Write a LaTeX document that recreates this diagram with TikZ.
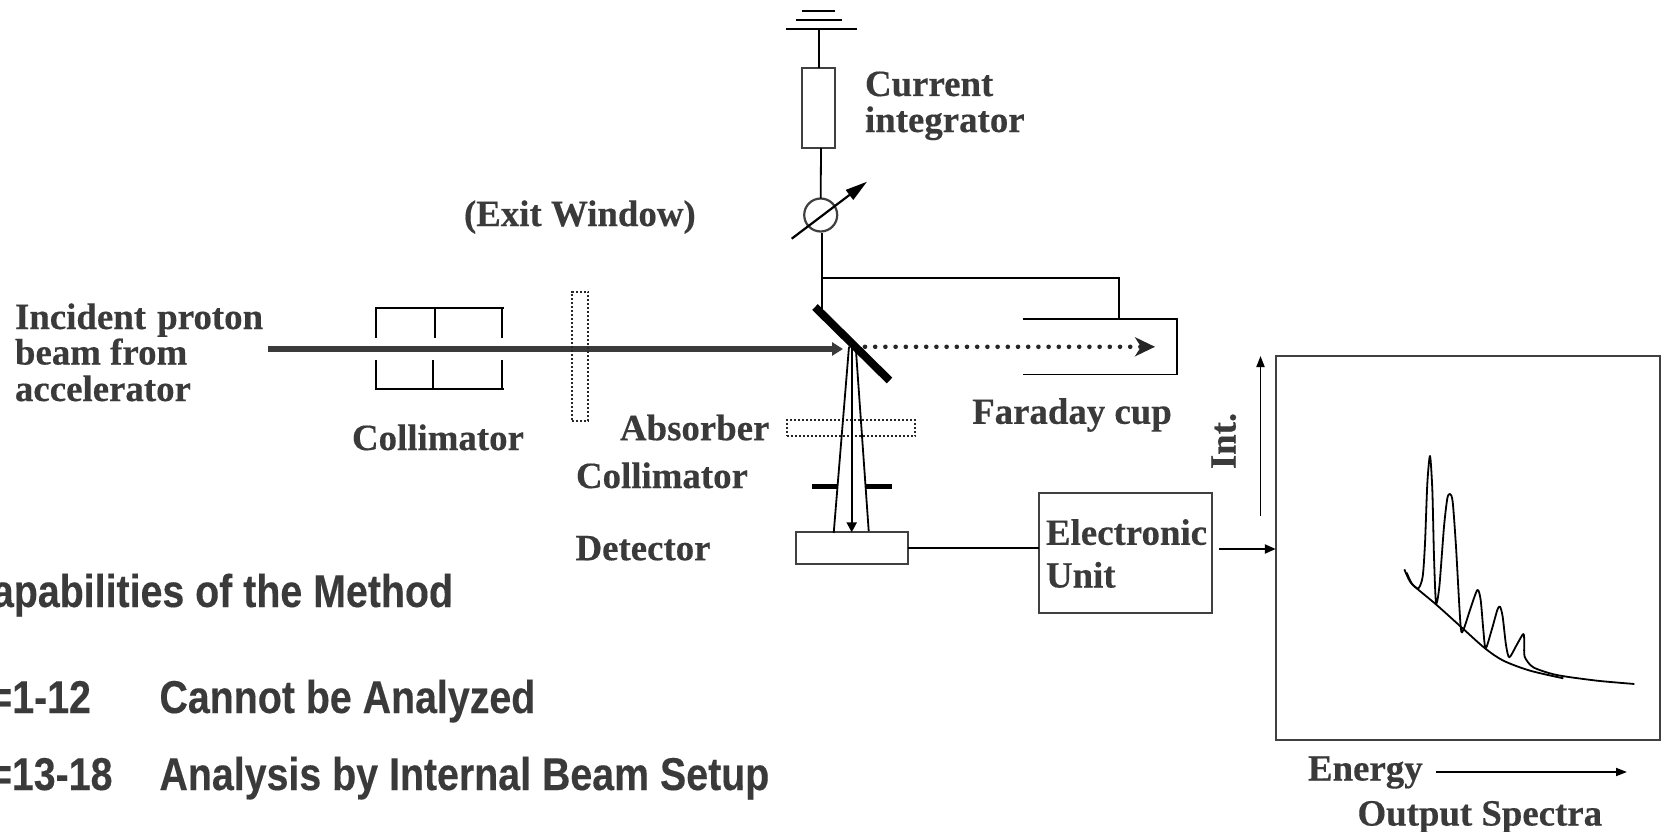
\documentclass[tikz,border=0pt]{standalone}
\usepackage{fontspec}
\setmainfont[BoldFeatures={FakeBold=0.35,FakeStretch=0.996}]{Liberation Serif}
\newfontfamily\condsans[FakeStretch=0.855,BoldFeatures={FakeStretch=0.855,FakeBold=0.25}]{Liberation Sans}
\usetikzlibrary{arrows.meta}
\definecolor{ink}{HTML}{3A3A3A}
\definecolor{edge}{HTML}{404040}
\tikzset{
  lab/.style={anchor=base west,inner sep=0pt,outer sep=0pt,text=ink,font=\fontsize{37}{36}\selectfont\bfseries},
  slab/.style={anchor=base west,inner sep=0pt,outer sep=0pt,text=ink,font=\fontsize{46}{46}\condsans\bfseries},
  wire/.style={line width=1.8pt,black},
  boxn/.style={draw=edge,line width=2.2pt,inner sep=0pt,outer sep=0pt,rectangle},
  dotbox/.style={draw=black!85,line width=1.8pt,dash pattern=on 2pt off 2pt,inner sep=0pt,outer sep=0pt,rectangle},
  bar/.style={line width=5pt,black},
}
\begin{document}
\begin{tikzpicture}[x=1pt,y=-1pt]
\useasboundingbox (0,0) rectangle (1665,832);
\clip (0,0) rectangle (1665,832);
\fill[white] (0,0) rectangle (1665,832);
% coordinates
\coordinate (g1a) at (786,29.3); \coordinate (g1b) at (857,29.3);
\coordinate (g2a) at (796,20);   \coordinate (g2b) at (842,20);
\coordinate (g3a) at (802,10.7); \coordinate (g3b) at (835,10.7);
\coordinate (gt) at (819.3,29.3);
\coordinate (jn) at (822,277.7);
\coordinate (mirA) at (815,307); \coordinate (mirB) at (889.5,380.5);
\coordinate (jm) at (822,311);
\coordinate (cupJ) at (1118.7,277.7);
\coordinate (cupT) at (1118.7,318.3);
\coordinate (cupA) at (1023,318.8); \coordinate (cupB) at (1176.7,318.8);
\coordinate (cupC) at (1176.7,374.5); \coordinate (cupD) at (1023,374.5);
\coordinate (beamS) at (268,349); \coordinate (beamE) at (843,349);
\coordinate (dotS) at (865,346.8); \coordinate (dotE) at (1155,346.8);
% ground
\draw[wire] (g1a) -- (g1b);
\draw[wire] (g2a) -- (g2b);
\draw[wire] (g3a) -- (g3b);
% integrator
\node[boxn,minimum width=33pt,minimum height=80pt] (integ) at (818.8,108) {};
\draw[wire] (gt) -- (gt |- integ.north);
% ammeter
\node[draw=edge,line width=2.2pt,circle,minimum size=33pt,inner sep=0pt,outer sep=0pt] (amm) at (820.7,215) {};
\draw[wire] (821,148) -- (amm.north);
\coordinate (ammA) at (791.7,238.7); \coordinate (ammB) at (867,181.7);
\draw[line width=2.2pt,black,-{Triangle[length=22pt,width=12pt]}] (ammA) -- (ammB);
\draw[wire] (822,233) -- (jn) -- (jm);
\draw[wire] (jn) -- (cupJ) -- (cupT);
\draw[wire,line join=miter] (cupA) -- (cupB) -- (cupC) -- (cupD);
% incident beam
\draw[line width=5.5pt,ink,-{Triangle[length=11pt,width=13pt]}] (beamS) -- (beamE);
% first collimator
\coordinate (ct1) at (376,308.3); \coordinate (ct2) at (504,308.3);
\coordinate (cb1) at (376,388.6); \coordinate (cb2) at (504,388.6);
\draw[wire] (ct2) -- (ct1) -- (376,337.7);
\draw[wire] (435,308.3) -- (435,337.7);
\draw[wire] (502,308.3) -- (502,337.7);
\draw[wire] (cb2) -- (cb1) -- (376,360);
\draw[wire] (433,388.6) -- (433,360);
\draw[wire] (502,388.6) -- (502,360);
% exit window
\node[dotbox,minimum width=16.4pt,minimum height=129pt] (exitw) at (580,356.2) {};
% absorber
\node[dotbox,minimum width=128.6pt,minimum height=16pt] (absb) at (851,428) {};
% rear collimator
\draw[bar] (811.7,486) -- (836.7,486);
\draw[bar] (866,486) -- (891.7,486);
% detector
\node[boxn,minimum width=112.6pt,minimum height=32pt] (det) at (852,548.3) {};
% rays
\coordinate (r1) at (849,346.7); \coordinate (r2) at (855.7,346.7); \coordinate (r0) at (851.7,346.7);
\draw[wire] (r1) -- (833.7,533);
\draw[wire] (r2) -- (868.7,531);
\draw[line width=2.2pt,black,-{Triangle[length=10pt,width=10pt]}] (r0) -- (r0 |- det.north);
% mirror
\draw[line width=8pt,black] (mirA) -- (mirB);
% dotted beam
\draw[line width=4.6pt,black!85,line cap=round,dash pattern=on 0pt off 10.2pt,
  -{Stealth[length=20pt,width=19pt,inset=6pt]}] (dotS) -- (dotE);
% electronic unit
\node[boxn,minimum width=172.7pt,minimum height=120pt] (elec) at (1125.4,552.7) {};
\draw[wire] (det.east) -- (det.east -| elec.west);
% spectrum box
\node[boxn,minimum width=384.5pt,minimum height=384pt] (spec) at (1468,548) {};
\coordinate (oa) at (1219,549);
\draw[line width=2.2pt,black,-{Triangle[length=11pt,width=9pt]}] (oa) -- (oa -| spec.west);
% axes
\coordinate (ia) at (1260.5,516); \coordinate (ib) at (1260.5,356);
\draw[wire,-{Triangle[length=11pt,width=8pt]}] (ia) -- (ib);
\coordinate (ea) at (1436,772); \coordinate (eb) at (1627,772);
\draw[wire,-{Triangle[length=11pt,width=8pt]}] (ea) -- (eb);
% spectrum
\begin{scope}[shift={(1370,430)},x=0.3333pt,y=-0.3333pt]
\draw[line width=1.8pt,black,line join=round] plot[smooth,tension=0.45] coordinates {
 (110,428)(125,460)(145,475)(158,440)(165,340)(172,160)(180,78)(187,180)(192,380)(198,518)
 (208,470)(222,290)(232,205)(240,192)(248,215)(258,350)(272,590)(281,597)(300,540)(322,480)
 (332,510)(340,600)(347,655)(365,600)(382,540)(390,530)(398,560)(408,645)(418,682)(440,645)(460,612)
 (463,640)(464,680)(490,712)(560,735)(680,752)(793,762)};
\draw[line width=1.8pt,black] plot[smooth,tension=0.5] coordinates {
 (103,418)(120,455)(140,475)(200,525)(280,597)(345,655)(400,692)(480,722)(580,745)};
\end{scope}
% labels
\node[lab] (t1) at (865,96) {Current};
\node[lab] (t2) at (865,132) {integrator};
\node[lab] (t3) at (464,226) {(Exit Window)};
\node[lab] (t4) at (15,329) {Incident\hspace{2pt} proton};
\node[lab] (t5) at (15,364.5) {beam from};
\node[lab] (t6) at (15,401) {accelerator};
\node[lab] (t7) at (352,450) {Collimator};
\node[lab] (t8) at (620,440.2) {Absorber};
\node[lab] (t9) at (576,488) {Collimator};
\node[lab] (t10) at (575.5,560.2) {Detector};
\node[lab] (t11) at (972.2,423.8) {Faraday cup};
\node[lab] (t12) at (1046,544.8) {Electronic};
\node[lab] (t13) at (1046,587.5) {Unit};
\node[lab,rotate=90,anchor=base] (t14) at (1235.5,441) {Int.};
\node[lab] (t15) at (1308,780.5) {Energy};
\node[lab] (t16) at (1357.5,825.5) {Output Spectra};
\node[slab,anchor=base east] (s1) at (453,607) {apabilities of the Method};
\node[slab,anchor=base east] (s2) at (91,713) {=1-12};
\node[slab] (s3) at (159.5,713) {Cannot be Analyzed};
\node[slab,anchor=base east] (s4) at (112.5,790) {=13-18};
\node[slab] (s5) at (159.5,790) {Analysis by Internal Beam Setup};
\end{tikzpicture}
\end{document}
